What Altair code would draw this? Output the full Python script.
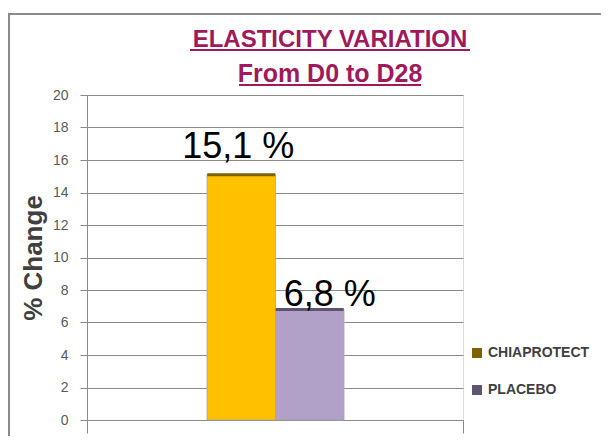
import altair as alt
import pandas as pd

series = ["CHIAPROTECT", "PLACEBO"]
values = [15.1, 6.8]
labels = ["15,1 %", "6,8 %"]
bar_colors = ["#FFC000", "#B1A0C7"]
edge_colors = ["#7F6000", "#5F5470"]
y_ticks = [0, 2, 4, 6, 8, 10, 12, 14, 16, 18, 20]
title_lines = ["ELASTICITY VARIATION", "From D0 to D28"]

FONT = "Liberation Sans"
GRID = "#8a8a8a"
TITLE_COLOR = "#A0195A"

df = pd.DataFrame({
    "group": ["D0-D28"] * len(series),
    "series": series,
    "value": values,
    "label": labels,
})
one = pd.DataFrame({"k": [0]})

x_enc = alt.X(
    "group:N",
    scale=alt.Scale(paddingInner=0, paddingOuter=0),
    axis=alt.Axis(title=None, labels=False, ticks=True, tickBand="extent",
                  tickSize=13, tickColor=GRID, domainColor=GRID, grid=False),
)
xo_enc = alt.XOffset("series:N", scale=alt.Scale(domain=series, range=[120, 257], paddingInner=0, paddingOuter=0))
y_enc = alt.Y(
    "value:Q",
    scale=alt.Scale(domain=[0, 20], nice=False),
    axis=alt.Axis(
        values=y_ticks, title="% Change", grid=True, gridColor=GRID,
        domainColor=GRID, tickColor=GRID, tickSize=7,
        labelFont=FONT, labelFontSize=14, labelColor="#595959", labelPadding=12,
        titleFont=FONT, titleFontSize=26, titleFontWeight="bold", titleColor="#404040",
        titleAngle=-90, titleX=-46, titleY=162.5, titleAlign="center", titleBaseline="alphabetic",
    ),
)

base = alt.Chart(df)

bars = base.mark_bar(stroke="#a6a6a6", strokeWidth=0.8).encode(
    x=x_enc, xOffset=xo_enc, y=y_enc,
    color=alt.Color("series:N", scale=alt.Scale(domain=series, range=bar_colors), legend=None),
)

edges = base.mark_tick(thickness=3, size=68, opacity=1).encode(
    x=x_enc, xOffset=xo_enc, y=y_enc,
    color=alt.Color(
        "series:N",
        scale=alt.Scale(domain=series, range=edge_colors),
        legend=alt.Legend(
            title=None, orient="none", legendX=383, legendY=251,
            symbolType="square", symbolSize=100, symbolOpacity=1,
            labelFont=FONT, labelFontSize=14, labelFontWeight="bold", labelColor="#404040",
            labelOffset=4, rowPadding=23,
        ),
    ),
)

lab1 = base.transform_filter(alt.datum.series == series[0]).mark_text(
    font=FONT, fontSize=36, color="black", align="center", baseline="alphabetic", dx=-3, dy=-17
).encode(x=x_enc, xOffset=xo_enc, y=y_enc, text="label:N")

lab2 = base.transform_filter(alt.datum.series == series[1]).mark_text(
    font=FONT, fontSize=36, color="black", align="center", baseline="alphabetic", dx=20, dy=-4
).encode(x=x_enc, xOffset=xo_enc, y=y_enc, text="label:N")

t1 = alt.Chart(one).mark_text(
    font=FONT, fontSize=24, fontWeight="bold", color=TITLE_COLOR, align="center", baseline="alphabetic"
).encode(x=alt.value(243), y=alt.value(-48), text=alt.value(title_lines[0]))
t2 = alt.Chart(one).mark_text(
    font=FONT, fontSize=25, fontWeight="bold", color=TITLE_COLOR, align="center", baseline="alphabetic"
).encode(x=alt.value(243), y=alt.value(-13), text=alt.value(title_lines[1]))

u1 = alt.Chart(one).mark_rule(color=TITLE_COLOR, strokeWidth=2).encode(
    x=alt.value(103), x2=alt.value(383), y=alt.value(-45))
u2 = alt.Chart(one).mark_rule(color=TITLE_COLOR, strokeWidth=2).encode(
    x=alt.value(152), x2=alt.value(334), y=alt.value(-10))

frame_left = alt.Chart(one).mark_rule(color="#8a8a8a", strokeWidth=2).encode(
    x=alt.value(-78), y=alt.value(-81), y2=alt.value(400))
frame_top = alt.Chart(one).mark_rule(color="#8a8a8a", strokeWidth=2).encode(
    x=alt.value(-79), x2=alt.value(700), y=alt.value(-81))

chart = alt.layer(frame_left, frame_top, bars, edges, lab1, lab2, t1, t2, u1, u2).resolve_scale(
    color="independent"
).properties(
    width=376,
    height=325,
    autosize=alt.AutoSizeParams(type="none"),
    padding={"left": 79, "top": 87, "right": 138, "bottom": 16},
).configure_view(stroke=None).configure(background="white")

chart.save("out.html", embed_options={"renderer": "svg", "actions": False})
